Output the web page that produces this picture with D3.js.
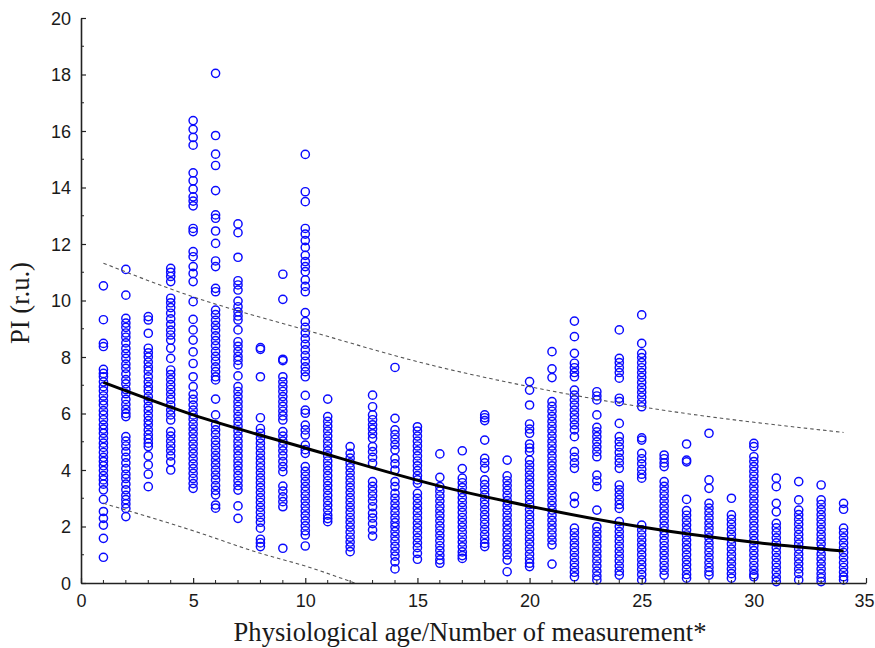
<!DOCTYPE html>
<html>
<head>
<meta charset="utf-8">
<script src="https://cdn.jsdelivr.net/npm/d3@7"></script>
<style>
  html, body { margin: 0; padding: 0; background: #fff; }
  svg { display: block; }
</style>
</head>
<body>
<svg id="chart" width="875" height="648"></svg>
<script>
// ---------------- DATA ----------------
const xLabel = "Physiological age/Number of measurement*";
const yLabel = "PI (r.u.)";
const xTicks = [0, 5, 10, 15, 20, 25, 30, 35];
const yTicks = [0, 2, 4, 6, 8, 10, 12, 14, 16, 18, 20];

// measurement number (x) for each column of points
const measurementNo = d3.range(1, 35);

// PI values per measurement number (index 0 -> x = 1)
const piValues = [
  [10.52, 9.32, 8.48, 8.37, 7.56, 7.42, 7.30, 7.12, 6.95, 6.8, 6.62, 6.45, 6.3, 6.1, 5.95, 5.78, 5.6, 5.45, 5.3, 5.12, 4.95, 4.8, 4.62, 4.45, 4.3, 4.15, 3.98, 3.8, 3.65, 3.5, 3.3, 2.96, 2.53, 2.29, 2.05, 1.58, 0.91],
  [11.10, 10.19, 9.37, 9.2, 9.05, 8.85, 8.7, 8.5, 8.3, 8.12, 7.95, 7.75, 7.6, 7.4, 7.2, 7.05, 6.85, 6.7, 6.5, 6.32, 6.15, 6.0, 5.89, 5.18, 5.02, 4.85, 4.65, 4.45, 4.25, 4.05, 3.85, 3.7, 3.5, 3.3, 3.1, 2.95, 2.8, 2.64, 2.35],
  [9.43, 9.31, 8.84, 8.31, 8.15, 8.0, 7.82, 7.65, 7.5, 7.3, 7.12, 6.95, 6.8, 6.6, 6.45, 6.25, 6.1, 5.92, 5.75, 5.6, 5.42, 5.25, 5.1, 4.95, 4.83, 4.5, 4.18, 3.85, 3.41],
  [11.14, 11.0, 10.85, 10.67, 10.08, 9.92, 9.75, 9.55, 9.35, 9.15, 8.95, 8.78, 8.6, 8.31, 7.95, 7.54, 7.38, 7.2, 7.02, 6.85, 6.68, 6.5, 6.3, 6.12, 5.95, 5.77, 5.36, 5.2, 5.02, 4.85, 4.68, 4.5, 4.29, 4.0],
  [16.37, 16.06, 15.77, 15.5, 14.52, 14.24, 13.94, 13.67, 13.52, 13.35, 12.55, 12.44, 11.73, 11.55, 11.2, 10.96, 10.67, 9.96, 9.33, 8.96, 8.6, 8.18, 7.77, 7.3, 6.95, 6.68, 6.5, 6.3, 6.12, 5.95, 5.8, 5.62, 5.45, 5.28, 5.1, 4.92, 4.75, 4.58, 4.4, 4.22, 4.05, 3.88, 3.7, 3.52, 3.35],
  [18.04, 15.84, 15.18, 14.78, 13.89, 13.03, 12.91, 12.46, 12.02, 11.4, 11.2, 10.43, 10.31, 9.66, 9.5, 9.3, 9.12, 8.95, 8.75, 8.58, 8.4, 8.2, 8.02, 7.85, 7.65, 7.48, 7.3, 7.19, 6.51, 5.95, 5.6, 5.42, 5.25, 5.05, 4.88, 4.7, 4.52, 4.35, 4.18, 4.0, 3.82, 3.65, 3.45, 3.28, 3.12, 2.76, 2.65],
  [12.71, 12.4, 11.53, 10.7, 10.55, 10.37, 9.98, 9.78, 9.6, 9.45, 9.31, 8.96, 8.54, 8.38, 8.2, 8.02, 7.88, 7.72, 7.33, 6.95, 6.78, 6.6, 6.42, 6.25, 6.08, 5.9, 5.72, 5.55, 5.38, 5.2, 5.02, 4.85, 4.68, 4.5, 4.32, 4.15, 3.98, 3.8, 3.62, 3.45, 3.29, 2.73, 2.29],
  [8.33, 8.27, 7.3, 5.85, 5.47, 5.3, 5.12, 4.95, 4.78, 4.6, 4.42, 4.25, 4.08, 3.9, 3.72, 3.55, 3.38, 3.2, 3.02, 2.85, 2.68, 2.5, 2.32, 2.15, 1.94, 1.55, 1.42, 1.29],
  [10.93, 10.04, 7.92, 7.87, 7.30, 7.12, 6.95, 6.78, 6.6, 6.42, 6.25, 6.08, 5.92, 5.77, 5.36, 5.2, 5.02, 4.85, 4.68, 4.5, 4.3, 4.12, 3.94, 3.43, 3.25, 3.05, 2.88, 2.70, 1.23],
  [15.17, 13.85, 13.5, 12.55, 12.35, 12.12, 11.88, 11.6, 11.38, 11.2, 11.02, 10.73, 10.5, 10.31, 9.57, 9.25, 9.05, 8.85, 8.65, 8.45, 8.25, 8.05, 7.85, 7.65, 7.48, 7.30, 6.64, 6.12, 6.01, 5.59, 5.42, 5.24, 4.88, 4.72, 4.59, 4.12, 3.95, 3.78, 3.6, 3.42, 3.25, 3.08, 2.9, 2.72, 2.55, 2.38, 2.2, 2.02, 1.85, 1.70, 1.31],
  [6.51, 5.89, 5.72, 5.55, 5.38, 5.2, 5.02, 4.85, 4.68, 4.5, 4.32, 4.15, 3.98, 3.8, 3.62, 3.45, 3.28, 3.1, 2.92, 2.75, 2.58, 2.4, 2.28, 2.17],
  [4.83, 4.59, 4.42, 4.25, 4.08, 3.9, 3.72, 3.55, 3.38, 3.2, 3.02, 2.85, 2.68, 2.5, 2.32, 2.15, 1.98, 1.8, 1.62, 1.45, 1.28, 1.11],
  [6.65, 6.24, 5.95, 5.78, 5.6, 5.45, 5.28, 5.12, 4.83, 4.65, 4.45, 4.24, 3.59, 3.42, 3.25, 3.08, 2.9, 2.70, 2.47, 2.3, 2.1, 1.88, 1.66],
  [7.63, 5.83, 5.42, 5.25, 5.08, 4.9, 4.71, 4.41, 4.22, 4.0, 3.59, 3.41, 3.17, 3.0, 2.82, 2.65, 2.48, 2.3, 2.14, 1.99, 1.82, 1.65, 1.48, 1.3, 1.12, 0.95, 0.75, 0.50],
  [5.53, 5.38, 5.2, 5.02, 4.85, 4.68, 4.5, 4.32, 4.15, 3.98, 3.8, 3.65, 3.53, 3.17, 3.0, 2.82, 2.65, 2.48, 2.3, 2.12, 1.95, 1.78, 1.6, 1.42, 1.25, 1.05, 0.84],
  [4.57, 3.74, 3.41, 3.25, 3.08, 2.9, 2.72, 2.55, 2.38, 2.2, 2.02, 1.85, 1.68, 1.5, 1.32, 1.15, 0.98, 0.82, 0.70],
  [4.68, 4.05, 3.71, 3.55, 3.38, 3.2, 3.02, 2.85, 2.68, 2.5, 2.32, 2.15, 1.98, 1.8, 1.62, 1.45, 1.28, 1.1, 0.97, 0.87],
  [5.95, 5.85, 5.75, 5.06, 4.41, 4.25, 4.06, 3.65, 3.48, 3.3, 3.12, 2.95, 2.78, 2.6, 2.42, 2.25, 2.08, 1.9, 1.72, 1.55, 1.4, 1.29],
  [4.35, 3.79, 3.62, 3.45, 3.28, 3.1, 2.92, 2.75, 2.58, 2.4, 2.22, 2.05, 1.88, 1.7, 1.52, 1.35, 1.18, 1.0, 0.81, 0.40],
  [7.13, 6.83, 6.30, 5.63, 5.45, 5.30, 4.92, 4.78, 4.65, 4.35, 4.18, 4.0, 3.82, 3.65, 3.48, 3.3, 3.12, 2.95, 2.78, 2.6, 2.42, 2.25, 2.08, 1.9, 1.72, 1.55, 1.38, 1.2, 1.02, 0.85, 0.70, 0.58],
  [8.19, 7.58, 7.27, 6.42, 6.25, 6.08, 5.9, 5.72, 5.55, 5.38, 5.2, 5.02, 4.85, 4.68, 4.5, 4.32, 4.15, 3.98, 3.8, 3.62, 3.45, 3.28, 3.1, 2.92, 2.75, 2.58, 2.4, 2.22, 2.05, 1.88, 1.7, 1.52, 1.35, 0.67],
  [9.27, 8.72, 8.13, 7.78, 7.62, 7.45, 7.30, 6.83, 6.65, 6.48, 6.3, 6.12, 5.95, 5.78, 5.6, 5.42, 5.18, 4.65, 4.45, 4.25, 4.06, 3.06, 2.82, 1.94, 1.78, 1.6, 1.42, 1.25, 1.08, 0.9, 0.72, 0.55, 0.38, 0.22],
  [6.77, 6.62, 6.48, 5.95, 5.51, 5.35, 5.18, 5.0, 4.82, 4.65, 4.47, 3.82, 3.62, 3.41, 2.58, 1.99, 1.82, 1.65, 1.48, 1.3, 1.12, 0.95, 0.78, 0.6, 0.42, 0.25, 0.11],
  [8.96, 7.95, 7.8, 7.62, 7.45, 7.25, 6.54, 6.42, 5.65, 5.18, 5.0, 4.82, 4.62, 4.42, 4.25, 4.06, 3.47, 3.3, 3.12, 2.95, 2.78, 2.64, 2.17, 2.0, 1.82, 1.65, 1.48, 1.3, 1.12, 0.95, 0.78, 0.6, 0.42, 0.28],
  [9.49, 8.48, 8.13, 7.98, 7.8, 7.62, 7.45, 7.28, 7.1, 6.92, 6.75, 6.58, 6.4, 6.24, 5.14, 5.06, 4.59, 4.4, 4.22, 4.02, 3.85, 3.71, 2.05, 1.88, 1.7, 1.52, 1.35, 1.18, 1.0, 0.82, 0.65, 0.48, 0.3, 0.11],
  [4.53, 4.4, 4.25, 4.12, 3.59, 3.42, 3.25, 3.08, 2.9, 2.72, 2.55, 2.38, 2.2, 2.02, 1.85, 1.68, 1.5, 1.32, 1.15, 0.98, 0.8, 0.62, 0.45, 0.28],
  [4.92, 4.35, 4.29, 2.96, 2.56, 2.4, 2.22, 2.05, 1.88, 1.7, 1.52, 1.35, 1.18, 1.0, 0.82, 0.65, 0.48, 0.3, 0.17],
  [5.30, 3.65, 3.35, 2.82, 2.65, 2.48, 2.3, 2.12, 1.95, 1.78, 1.6, 1.42, 1.25, 1.08, 0.9, 0.72, 0.55, 0.4, 0.28],
  [3.0, 2.41, 2.25, 2.08, 1.9, 1.72, 1.55, 1.38, 1.2, 1.02, 0.85, 0.68, 0.5, 0.33, 0.17],
  [4.94, 4.83, 4.47, 4.3, 4.12, 3.95, 3.78, 3.6, 3.42, 3.25, 3.08, 2.9, 2.72, 2.55, 2.38, 2.2, 2.02, 1.85, 1.68, 1.5, 1.32, 1.15, 0.98, 0.8, 0.62, 0.45, 0.3, 0.22],
  [3.71, 3.41, 2.82, 2.52, 2.11, 1.95, 1.78, 1.6, 1.42, 1.25, 1.08, 0.9, 0.72, 0.55, 0.38, 0.2, 0.05],
  [3.59, 2.94, 2.58, 2.42, 2.25, 2.08, 1.9, 1.72, 1.55, 1.38, 1.2, 1.02, 0.85, 0.68, 0.5, 0.33, 0.11],
  [3.47, 2.94, 2.78, 2.6, 2.42, 2.25, 2.08, 1.9, 1.72, 1.55, 1.38, 1.2, 1.02, 0.85, 0.68, 0.5, 0.33, 0.18, 0.05],
  [2.82, 2.61, 1.94, 1.78, 1.6, 1.42, 1.25, 1.08, 0.9, 0.72, 0.55, 0.38, 0.22, 0.11]
];

// fitted curve
const fitX = [1, 5, 10, 16, 20, 25, 30, 34];
const fitY = [7.1, 5.95, 4.78, 3.43, 2.72, 1.98, 1.44, 1.13];

// upper / lower dashed bands
const upperX = [1, 5, 10, 15.58, 20, 24.49, 34];
const upperY = [11.32, 10.13, 8.96, 7.72, 6.95, 6.30, 5.33];
const lowerX = [1, 5, 8, 10, 12.2];
const lowerY = [2.82, 1.85, 1.05, 0.6, 0.0];

// ---------------- LAYOUT ----------------
const svg = d3.select("#chart");
const m = { left: 81, right: 866, top: 18, bottom: 583 };

const x = d3.scaleLinear().domain([0, 35]).range([m.left, m.right]);
const y = d3.scaleLinear().domain([0, 20]).range([m.bottom, m.top]);

svg.append("defs").append("clipPath").attr("id", "plotclip")
  .append("rect")
  .attr("x", m.left).attr("y", m.top)
  .attr("width", m.right - m.left).attr("height", m.bottom - m.top);

// points
const points = [];
measurementNo.forEach((mx, i) => {
  piValues[i].forEach(v => points.push({ x: mx, y: v }));
});

svg.append("g")
  .selectAll("circle")
  .data(points)
  .join("circle")
  .attr("cx", d => x(d.x))
  .attr("cy", d => y(d.y))
  .attr("r", 4.1)
  .attr("fill", "none")
  .attr("stroke", "#0a0aff")
  .attr("stroke-width", 1.45);

// bands
const line = d3.line().x(d => x(d[0])).y(d => y(d[1])).curve(d3.curveMonotoneX);
const gLines = svg.append("g").attr("clip-path", "url(#plotclip)");
gLines.append("path")
  .attr("d", line(d3.zip(upperX, upperY)))
  .attr("fill", "none").attr("stroke", "#555").attr("stroke-width", 1.1)
  .attr("stroke-dasharray", "3.5,3");
gLines.append("path")
  .attr("d", line(d3.zip(lowerX, lowerY)))
  .attr("fill", "none").attr("stroke", "#555").attr("stroke-width", 1.1)
  .attr("stroke-dasharray", "3.5,3");
gLines.append("path")
  .attr("d", line(d3.zip(fitX, fitY)))
  .attr("fill", "none").attr("stroke", "#000").attr("stroke-width", 3);

// axes
const axisFont = "'Liberation Sans', Arial, sans-serif";

const xAxis = svg.append("g").attr("transform", `translate(0,${m.bottom})`)
  .call(d3.axisBottom(x).tickValues(xTicks).tickFormat(d3.format("d"))
    .tickSizeInner(-5).tickSizeOuter(0).tickPadding(11));
xAxis.append("g").selectAll("line")
  .data(d3.range(0, 36).filter(v => v % 5 !== 0))
  .join("line")
  .attr("x1", d => x(d)).attr("x2", d => x(d))
  .attr("y1", 0).attr("y2", -3)
  .attr("stroke", "#222");

const yAxis = svg.append("g").attr("transform", `translate(${m.left},0)`)
  .call(d3.axisLeft(y).tickValues(yTicks).tickFormat(d3.format("d"))
    .tickSizeInner(-5).tickSizeOuter(0).tickPadding(10));
yAxis.append("g").selectAll("line")
  .data(d3.range(1, 20, 2))
  .join("line")
  .attr("x1", 0).attr("x2", 3)
  .attr("y1", d => y(d)).attr("y2", d => y(d))
  .attr("stroke", "#222");

[xAxis, yAxis].forEach(g => {
  g.select(".domain").attr("stroke", "#222").attr("stroke-width", 1.6);
  g.selectAll(".tick line").attr("stroke", "#222").attr("stroke-width", 1.2);
  g.selectAll(".tick text")
    .attr("font-family", axisFont).attr("font-size", 18).attr("fill", "#1a1a1a");
});
yAxis.selectAll(".tick text").attr("dy", "0.36em");
// keep the last x label inside the picture
xAxis.selectAll(".tick text").filter(d => d === 35)
  .attr("text-anchor", "end").attr("x", 874 - x(35));

// titles
const serif = "'Liberation Serif', 'DejaVu Serif', serif";
const xt = svg.append("text")
  .attr("x", 470).attr("y", 641)
  .attr("text-anchor", "middle")
  .attr("font-family", serif).attr("font-size", 21).attr("fill", "#1a1a1a")
  .text(xLabel);
const xw = xt.node().getComputedTextLength();
xt.attr("font-size", 21 * 473 / xw);

const yt = svg.append("text")
  .attr("transform", "translate(29,303) rotate(-90)")
  .attr("text-anchor", "middle")
  .attr("font-family", serif).attr("font-size", 21).attr("fill", "#1a1a1a")
  .text(yLabel);
const yw = yt.node().getComputedTextLength();
yt.attr("font-size", 21 * 82 / yw);
</script>
</body>
</html>
